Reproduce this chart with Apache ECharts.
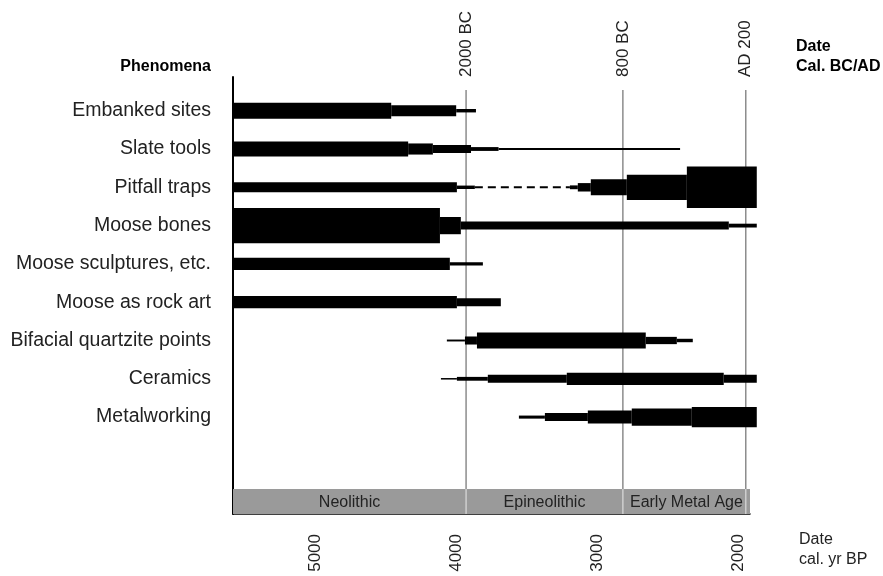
<!DOCTYPE html>
<html><head><meta charset="utf-8">
<script src="https://cdn.jsdelivr.net/npm/echarts@6/dist/echarts.min.js"></script>
<style>html,body{margin:0;padding:0;background:#fff}#c{width:883px;height:576px}</style>
</head><body><div id="c"></div>
<script>
const phenomena = ['Embanked sites','Slate tools','Pitfall traps','Moose bones','Moose sculptures, etc.','Moose as rock art','Bifacial quartzite points','Ceramics','Metalworking'];
// segments: [from cal BP, to cal BP, relative thickness (share of row spacing)]
const embankedSites   = [[5580,4460,0.42],[4460,4000,0.29],[4000,3860,0.09]];
const slateTools      = [[5580,4340,0.39],[4340,4165,0.29],[4165,3895,0.21],[3895,3700,0.10],[3700,2415,0.05]];
const pitfallTraps    = [[5580,3995,0.26],[3995,3868,0.09],[3195,3139,0.10],[3139,3047,0.22],[3047,2792,0.42],[2792,2367,0.66],[2367,1872,1.08]];
const mooseBones      = [[5580,4115,0.92],[4115,3967,0.45],[3967,2070,0.21],[2070,1872,0.10]];
const mooseSculptures = [[5580,4045,0.32],[4045,3811,0.08]];
const mooseRockArt    = [[5580,3995,0.32],[3995,3684,0.21]];
const bifacialPoints  = [[4066,3938,0.05],[3938,3853,0.21],[3853,2658,0.42],[2658,2438,0.19],[2438,2325,0.09]];
const ceramics        = [[4108,3995,0.04],[3995,3776,0.10],[3776,3217,0.21],[3217,2106,0.32],[2106,1872,0.21]];
const metalworking    = [[3556,3372,0.08],[3372,3068,0.21],[3068,2757,0.34],[2757,2332,0.45],[2332,1872,0.53]];
const segmentsByRow = [embankedSites, slateTools, pitfallTraps, mooseBones, mooseSculptures, mooseRockArt, bifacialPoints, ceramics, metalworking];
const pitfallGap = [[3868, 3], [3195, 3]]; // dashed uncertain span (BP, row)
const bpTicks = [5000, 4000, 3000, 2000];
const bcadBP = [3930, 2820, 1950];
const bcadLabels = ['2000 BC', '800 BC', 'AD 200'];
const periods = ['Neolithic', 'Epineolithic', 'Early Metal Age'];
const periodStart = [5580, 3930, 2820];
const periodEnd = [3930, 2820, 1920];

const FONT = 'Liberation Sans, Arial, sans-serif';
const Y_MIN = 0.12, Y_MAX = 11.53, BAND_TOP = 10.88, LINE_TOP = 0.46;

const segData = [];
segmentsByRow.forEach((segs, r) => segs.forEach(s => segData.push([s[0], s[1], r + 1, s[2]])));
const periodData = periods.map((p, i) => [periodStart[i], periodEnd[i], p]);
const bcadData = bcadBP.map((v, i) => [v, bcadLabels[i]]);

const chart = echarts.init(document.getElementById('c'));
chart.setOption({
  animation: false,
  textStyle: { fontFamily: FONT },
  grid: { left: 233, right: 133, top: 77, bottom: 62, containLabel: false, outerBoundsMode: 'none' },
  xAxis: {
    type: 'value', inverse: true, min: 1920, max: 5580,
    axisLine: { show: true, onZero: false, lineStyle: { color: '#000', width: 1.5 } },
    axisTick: { show: false }, splitLine: { show: false },
    axisLabel: { customValues: bpTicks, formatter: v => String(v), rotate: 90, fontSize: 17, margin: 20, color: '#222', fontFamily: FONT }
  },
  yAxis: {
    type: 'value', inverse: true, min: Y_MIN, max: Y_MAX,
    axisLine: { show: true, onZero: false, lineStyle: { color: '#000', width: 2 } },
    axisTick: { show: false }, splitLine: { show: false },
    axisLabel: {
      customValues: phenomena.map((_, i) => i + 1),
      formatter: v => phenomena[Math.round(v) - 1] || '',
      fontSize: 19.5, margin: 22, color: '#222', fontFamily: FONT
    }
  },
  graphic: [
    { type: 'text', x: 211, y: 67, style: { text: 'Phenomena', font: 'bold 16px ' + FONT, align: 'right', verticalAlign: 'middle', fill: '#000' } },
    { type: 'text', x: 796, y: 47, style: { text: 'Date', font: 'bold 16px ' + FONT, align: 'left', verticalAlign: 'middle', fill: '#000' } },
    { type: 'text', x: 796, y: 67, style: { text: 'Cal. BC/AD', font: 'bold 16px ' + FONT, align: 'left', verticalAlign: 'middle', fill: '#000' } },
    { type: 'text', x: 799, y: 540, style: { text: 'Date', font: '16px ' + FONT, align: 'left', verticalAlign: 'middle', fill: '#222' } },
    { type: 'text', x: 799, y: 560, style: { text: 'cal. yr BP', font: '16px ' + FONT, align: 'left', verticalAlign: 'middle', fill: '#222' } }
  ],
  series: [
    {
      type: 'custom', z: 1, clip: false, data: periodData,
      encode: { x: [0, 1] },
      renderItem: (params, api) => {
        const a = api.coord([api.value(0), BAND_TOP]);
        const b = api.coord([api.value(1), Y_MAX]);
        const x0 = Math.min(a[0], b[0]), x1 = Math.max(a[0], b[0]);
        return {
          type: 'group', children: [
            { type: 'rect', shape: { x: x0, y: a[1], width: x1 - x0, height: b[1] - a[1] }, style: { fill: '#9a9a9a' } },
            { type: 'text', x: (x0 + x1) / 2, y: (a[1] + b[1]) / 2 + 1, style: { text: periodData[params.dataIndex][2], font: '16px ' + FONT, fill: '#222', align: 'center', verticalAlign: 'middle' } }
          ]
        };
      }
    },
    {
      type: 'custom', z: 2, clip: false, data: bcadData,
      encode: { x: 0 },
      renderItem: (params, api) => {
        const top = api.coord([api.value(0), LINE_TOP]);
        const mid = api.coord([api.value(0), BAND_TOP]);
        const bot = api.coord([api.value(0), Y_MAX]);
        return {
          type: 'group', children: [
            { type: 'line', shape: { x1: top[0], y1: top[1], x2: mid[0], y2: mid[1] }, style: { stroke: '#8c8c8c', lineWidth: 1.5 } },
            { type: 'line', shape: { x1: mid[0], y1: mid[1], x2: bot[0], y2: bot[1] }, style: { stroke: '#cfcfcf', lineWidth: 1.5 } },
            { type: 'text', x: top[0], y: top[1] - 13, rotation: Math.PI / 2, style: { x: 0, y: 0, text: bcadData[params.dataIndex][1], font: '17px ' + FONT, fill: '#222', align: 'left', verticalAlign: 'middle' } }
          ]
        };
      }
    },
    {
      type: 'line', z: 3, data: pitfallGap, symbol: 'none',
      lineStyle: { color: '#000', width: 2, type: [8, 5] }
    },
    {
      type: 'custom', z: 4, clip: false, data: segData,
      encode: { x: [0, 1], y: 2 },
      renderItem: (params, api) => {
        const a = api.coord([api.value(0), api.value(2)]);
        const b = api.coord([api.value(1), api.value(2)]);
        const h = api.size([0, api.value(3)])[1];
        return { type: 'rect', shape: { x: Math.min(a[0], b[0]), y: a[1] - h / 2, width: Math.abs(b[0] - a[0]), height: h }, style: { fill: '#000' } };
      }
    }
  ]
});
</script></body></html>
